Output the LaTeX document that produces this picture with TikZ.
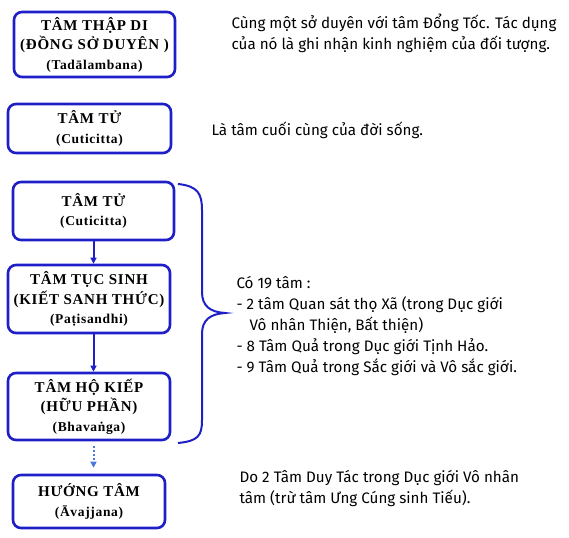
\documentclass[tikz,border=0pt]{standalone}
\usepackage{fontspec}
\setmainfont{Liberation Serif}
\newfontfamily\notefont{Fira Sans}
\usepackage{tikz}
\usetikzlibrary{positioning,arrows.meta,calc}
\definecolor{boxblue}{HTML}{1F1FC8}
\definecolor{dotblue}{HTML}{4A78E0}
\newcommand{\capline}[1]{{\addfontfeature{LetterSpace=5}#1}}
\newcommand{\paliline}[1]{{\fontsize{13.5}{19}\selectfont\addfontfeature{LetterSpace=5}#1}}

\begin{document}
\begin{tikzpicture}[x=1pt,y=-1pt,>={Triangle[length=6pt,width=6pt]}]
  \tikzstyle{stage}=[draw=boxblue,line width=2.6pt,rounded corners=8pt,align=center,font=\bfseries\fontsize{15}{19.5}\selectfont,inner sep=0pt]
  \tikzstyle{note}=[anchor=west,align=left,font=\notefont\fontsize{15.2}{21}\selectfont]
  \useasboundingbox (0,0) rectangle (569,537);
  % the six stages
  \node[stage,minimum width=161pt,minimum height=65pt] (thapdi) at (94.5,44.5)
    {\capline{TÂM THẬP DI}\\\capline{(ĐỒNG SỞ DUYÊN )}\\\paliline{(Tadālambana)}};
  \node[stage,minimum width=163pt,minimum height=49pt] (tu1) at (89.5,128.5)
    {\capline{TÂM TỬ}\\\paliline{(Cuticitta)}};
  \node[stage,minimum width=161pt,minimum height=58pt] (tu2) at (93.5,211)
    {\capline{TÂM TỬ}\\\paliline{(Cuticitta)}};
  \node[stage,minimum width=162pt,minimum height=68pt] (tucsinh) at (89,299)
    {\capline{TÂM TỤC SINH}\\\capline{(KIẾT SANH THỨC)}\\\paliline{(Paṭisandhi)}};
  \node[stage,minimum width=162pt,minimum height=67pt] (hokiep) at (89,406.5)
    {\capline{TÂM HỘ KIẾP}\\\capline{(HỮU PHẦN)}\\\paliline{(Bhavaṅga)}};
  \node[stage,minimum width=152pt,minimum height=53pt] (huong) at (89,501.5)
    {\capline{HƯỚNG TÂM}\\\paliline{(Āvajjana)}};
  % arrows
  \draw[->,boxblue,line width=2pt] (tu2.south) -- (tu2.south |- tucsinh.north);
  \draw[->,boxblue,line width=2pt] (tu2.south |- tucsinh.south) -- (tu2.south |- hokiep.north);
  \coordinate (dotstart) at ($(tu2.south |- hokiep.south)+(0,5)$);
  \draw[->,dotblue,line width=2pt,dotted] (dotstart) -- ($(tu2.south |- huong.north)+(0,-6)$);
  % brace
  \coordinate (btop) at (178,184);
  \coordinate (btip) at (225,313);
  \coordinate (bbot) at (178,443);
  \draw[boxblue,line width=2pt] (btop) .. controls (198,186) and (202,194) .. (202,210)
    -- (202,292) .. controls (202,306) and (210,312) .. (btip)
    .. controls (210,314) and (202,320) .. (202,334)
    -- (202,420) .. controls (202,436) and (198,441) .. (bbot);
  % notes
  \node[note] (n1) at (228,33.5) {Cùng một sở duyên với tâm Đổng Tốc. Tác dụng\\của nó là ghi nhận kinh nghiệm của đối tượng.};
  \node[note] (n2) at (208,130) {Là tâm cuối cùng của đời sống.};
  \node[note] (n3) at (233,326) {Có 19 tâm :\\- 2 tâm Quan sát thọ Xã (trong Dục giới\\\hspace*{13pt}Vô nhân Thiện, Bất thiện)\\- 8 Tâm Quả trong Dục giới Tịnh Hảo.\\- 9 Tâm Quả trong Sắc giới và Vô sắc giới.};
  \node[note] (n4) at (236,488.5) {Do 2 Tâm Duy Tác trong Dục giới Vô nhân\\tâm (trừ tâm Ưng Cúng sinh Tiếu).};
\end{tikzpicture}
\end{document}
